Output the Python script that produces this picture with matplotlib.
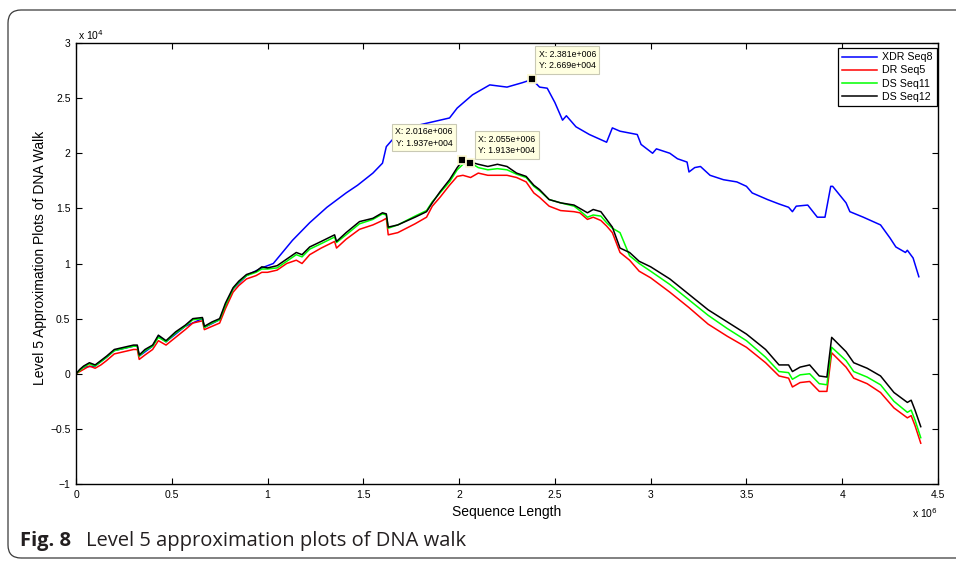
import matplotlib
matplotlib.use("Agg")
import matplotlib.pyplot as plt
from matplotlib.patches import FancyBboxPatch
from matplotlib.ticker import FuncFormatter

# ---- data (x in units of 1e6, y in units of 1e4) ----
x_walk = [0.00, 0.02, 0.04, 0.07, 0.10, 0.13, 0.16, 0.20, 0.25, 0.30,
          0.32, 0.33, 0.36, 0.40, 0.43, 0.47, 0.52, 0.57, 0.61, 0.66,
          0.67, 0.71, 0.75, 0.78, 0.82, 0.85, 0.89, 0.94, 0.97, 1.00,
          1.05, 1.10, 1.15, 1.18, 1.22, 1.28, 1.35, 1.36, 1.41, 1.48,
          1.55, 1.60, 1.62, 1.63, 1.68, 1.77, 1.83, 1.86, 1.90, 1.95,
          1.99, 2.02, 2.06, 2.10, 2.15, 2.20, 2.25, 2.30, 2.35, 2.39,
          2.42, 2.47, 2.53, 2.60, 2.63, 2.67, 2.70, 2.74, 2.77, 2.80,
          2.84, 2.89, 2.94, 3.00, 3.10, 3.20, 3.30, 3.40, 3.50, 3.60,
          3.67, 3.72, 3.74, 3.78, 3.83, 3.88, 3.92, 3.945, 4.02, 4.06,
          4.13, 4.20, 4.27, 4.34, 4.36, 4.38, 4.41]

ds_seq12 = [0.00, 0.04, 0.07, 0.10, 0.08, 0.12, 0.16, 0.22, 0.24, 0.26,
            0.26, 0.17, 0.22, 0.26, 0.35, 0.30, 0.38, 0.44, 0.50, 0.51,
            0.43, 0.47, 0.50, 0.64, 0.78, 0.84, 0.90, 0.93, 0.97, 0.96,
            0.98, 1.04, 1.10, 1.08, 1.15, 1.20, 1.26, 1.20, 1.28, 1.38,
            1.41, 1.46, 1.45, 1.33, 1.35, 1.42, 1.47, 1.55, 1.65, 1.76,
            1.87, 1.937, 1.92, 1.90, 1.88, 1.90, 1.88, 1.82, 1.79, 1.71,
            1.67, 1.58, 1.55, 1.53, 1.50, 1.46, 1.49, 1.47, 1.40, 1.33,
            1.14, 1.10, 1.02, 0.97, 0.86, 0.72, 0.58, 0.47, 0.36, 0.22,
            0.08, 0.08, 0.02, 0.06, 0.08, -0.02, -0.03, 0.33, 0.20, 0.10,
            0.05, -0.02, -0.17, -0.26, -0.24, -0.33, -0.48]

ds_seq11 = [0.00, 0.03, 0.06, 0.09, 0.07, 0.11, 0.15, 0.21, 0.23, 0.25,
            0.25, 0.16, 0.21, 0.25, 0.33, 0.29, 0.37, 0.43, 0.49, 0.50,
            0.42, 0.46, 0.49, 0.62, 0.77, 0.83, 0.89, 0.92, 0.95, 0.95,
            0.96, 1.02, 1.08, 1.06, 1.13, 1.18, 1.24, 1.19, 1.26, 1.36,
            1.40, 1.45, 1.44, 1.32, 1.35, 1.43, 1.48, 1.56, 1.64, 1.74,
            1.85, 1.90, 1.913, 1.87, 1.85, 1.86, 1.85, 1.81, 1.78, 1.70,
            1.66, 1.58, 1.55, 1.52, 1.48, 1.42, 1.44, 1.43, 1.37, 1.32,
            1.28, 1.07, 1.00, 0.93, 0.81, 0.67, 0.53, 0.41, 0.30, 0.15,
            0.02, 0.01, -0.05, -0.01, 0.00, -0.09, -0.10, 0.24, 0.12, 0.02,
            -0.03, -0.10, -0.25, -0.35, -0.33, -0.42, -0.58]

dr_seq5 = [0.00, 0.02, 0.04, 0.07, 0.05, 0.08, 0.12, 0.18, 0.20, 0.22,
           0.22, 0.13, 0.17, 0.22, 0.30, 0.26, 0.33, 0.40, 0.46, 0.48,
           0.40, 0.43, 0.46, 0.59, 0.74, 0.80, 0.86, 0.89, 0.92, 0.92,
           0.94, 1.00, 1.03, 1.00, 1.08, 1.14, 1.20, 1.14, 1.22, 1.31,
           1.35, 1.39, 1.41, 1.26, 1.28, 1.36, 1.42, 1.52, 1.60, 1.71,
           1.79, 1.80, 1.78, 1.82, 1.80, 1.80, 1.80, 1.78, 1.74, 1.64,
           1.60, 1.52, 1.48, 1.47, 1.46, 1.40, 1.42, 1.39, 1.34, 1.28,
           1.10, 1.03, 0.93, 0.87, 0.74, 0.60, 0.45, 0.34, 0.24, 0.10,
           -0.02, -0.04, -0.12, -0.08, -0.07, -0.16, -0.16, 0.19, 0.06, -0.04,
           -0.09, -0.17, -0.31, -0.40, -0.38, -0.47, -0.63]

x_xdr = [0.00, 0.04, 0.10, 0.16, 0.20, 0.30, 0.32, 0.33, 0.40, 0.43,
         0.47, 0.57, 0.66, 0.67, 0.75, 0.82, 0.89, 0.97, 1.03, 1.13,
         1.22, 1.31, 1.41, 1.47, 1.55, 1.60, 1.62, 1.65, 1.80, 1.90,
         1.95, 1.99, 2.07, 2.16, 2.25, 2.33, 2.381, 2.42, 2.46, 2.50,
         2.54, 2.56, 2.61, 2.68, 2.77, 2.80, 2.84, 2.93, 2.95, 3.01,
         3.03, 3.10, 3.14, 3.19, 3.20, 3.23, 3.26, 3.31, 3.38, 3.45,
         3.50, 3.53, 3.61, 3.67, 3.72, 3.74, 3.76, 3.82, 3.87, 3.91,
         3.94, 3.95, 4.02, 4.04, 4.11, 4.20, 4.25, 4.28, 4.33, 4.34,
         4.37, 4.40]
xdr_seq8 = [0.00, 0.06, 0.07, 0.15, 0.21, 0.25, 0.25, 0.16, 0.25, 0.34,
            0.29, 0.43, 0.50, 0.42, 0.49, 0.77, 0.89, 0.96, 1.00, 1.21,
            1.37, 1.51, 1.64, 1.71, 1.82, 1.91, 2.06, 2.12, 2.26, 2.30,
            2.32, 2.41, 2.53, 2.62, 2.60, 2.64, 2.669, 2.60, 2.59, 2.46,
            2.30, 2.34, 2.24, 2.17, 2.10, 2.23, 2.20, 2.17, 2.08, 2.00,
            2.04, 2.00, 1.95, 1.92, 1.83, 1.87, 1.88, 1.80, 1.76, 1.74,
            1.70, 1.64, 1.58, 1.54, 1.51, 1.47, 1.52, 1.53, 1.42, 1.42,
            1.70, 1.70, 1.55, 1.47, 1.42, 1.35, 1.23, 1.15, 1.10, 1.12,
            1.05, 0.88]

series_labels = ["XDR Seq8", "DR Seq5", "DS Seq11", "DS Seq12"]

# data tips: (x in 1e6, y in 1e4)
tip_x = [2.381, 2.016, 2.055]
tip_y = [2.669, 1.937, 1.913]
tip_text = ["X: 2.381e+006\nY: 2.669e+004",
            "X: 2.016e+006\nY: 1.937e+004",
            "X: 2.055e+006\nY: 1.913e+004"]

x_ticks = [0, 0.5, 1, 1.5, 2, 2.5, 3, 3.5, 4, 4.5]
y_ticks = [-1, -0.5, 0, 0.5, 1, 1.5, 2, 2.5, 3]

# ---- figure ----
W, H = 956, 562
fig = plt.figure(figsize=(W / 100, H / 100), dpi=100)
fig.patch.set_facecolor("white")
plt.rcParams["font.family"] = ["Liberation Sans", "DejaVu Sans"]

# outer rounded frame of the article figure
frame = FancyBboxPatch((8 / 100, 4 / 100), (990 - 8) / 100, (558 - 10) / 100,
                       boxstyle="round,pad=0,rounding_size=0.13",
                       transform=fig.dpi_scale_trans, fill=False,
                       ec="#3a3a3a", lw=0.9, clip_on=False)
fig.patches.append(frame)

ax = fig.add_axes([76 / W, 1 - 484 / H, (938 - 76) / W, (484 - 43) / H])

ax.plot(x_xdr, xdr_seq8, color=(0, 0, 1), lw=1.1, label=series_labels[0])
ax.plot(x_walk, dr_seq5, color=(1, 0, 0), lw=1.1, label=series_labels[1])
ax.plot(x_walk, ds_seq11, color=(0, 1, 0), lw=1.1, label=series_labels[2])
ax.plot(x_walk, ds_seq12, color=(0, 0, 0), lw=1.1, label=series_labels[3])

ax.set_xlim(0, 4.5)
ax.set_ylim(-1, 3)
ax.set_xticks(x_ticks)
ax.set_yticks(y_ticks)
fmt = FuncFormatter(lambda v, p: f"{v:g}".replace("-", "\u2212"))
ax.xaxis.set_major_formatter(fmt)
ax.yaxis.set_major_formatter(fmt)
ax.tick_params(direction="in", length=4, width=0.8, labelsize=7.5,
               top=True, right=True, pad=4, colors="black")
for s in ax.spines.values():
    s.set_linewidth(1.0)
    s.set_color("black")

leg = ax.legend(loc="upper right",
                bbox_to_anchor=((937 - 76) / 862, (484 - 48) / 441),
                borderaxespad=0, fontsize=7.7, frameon=True, fancybox=False,
                edgecolor="black", framealpha=1, handlelength=3.3,
                handletextpad=0.45, labelspacing=0.3, borderpad=0.4)
leg.get_frame().set_linewidth(0.9)

# data tips
offsets = [(4.7, 6.8, "left"), (-6.8, 9.0, "right"), (6.1, 5.4, "left")]
for (tx, ty, txt, (dx, dy, ha)) in zip(tip_x, tip_y, tip_text, offsets):
    ax.plot([tx], [ty], "s", ms=5.5, mfc="black", mec="#fbf8d2", mew=1.3, zorder=6)
    ax.annotate(txt, xy=(tx, ty), xytext=(dx, dy), textcoords="offset points",
                ha=ha, va="bottom", fontsize=6.3, linespacing=1.35, zorder=7,
                bbox=dict(boxstyle="square,pad=0.4", fc="#ffffe1",
                          ec="#c9c9b5", lw=0.8))

# exponent labels
fig.text(78 / W, 1 - 35 / H, r"x 10$^{4}$", fontsize=7.5, ha="left", va="center")
fig.text(912 / W, 1 - 513 / H, r"x 10$^{6}$", fontsize=7.5, ha="left", va="center")

# axis labels
fig.text(507 / W, 1 - 512 / H, "Sequence Length", fontsize=10, ha="center", va="center")
fig.text(40 / W, 1 - 258 / H, "Level 5 Approximation Plots of DNA Walk", fontsize=10,
         rotation=90, ha="center", va="center")

# caption
fig.text(20 / W, 1 - 541 / H, "Fig. 8", fontsize=14.5, fontweight="bold",
         family=["Open Sans", "DejaVu Sans"], color="#231f20",
         ha="left", va="center")
fig.text(86 / W, 1 - 541 / H, "Level 5 approximation plots of DNA walk", fontsize=14.5,
         family=["Open Sans", "DejaVu Sans"], color="#231f20", ha="left", va="center")

fig.savefig("out.png", dpi=100, facecolor="white")
